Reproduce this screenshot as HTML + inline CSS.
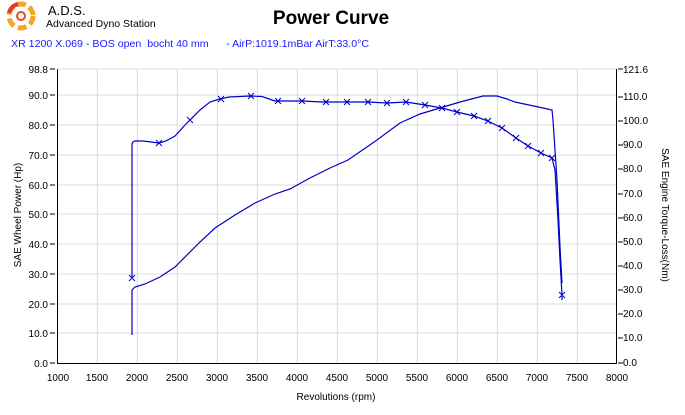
<!DOCTYPE html>
<html><head><meta charset="utf-8"><style>
body{margin:0;background:#fff;width:685px;height:410px;overflow:hidden;font-family:"Liberation Sans",sans-serif}
</style></head><body>
<svg width="685" height="410" xmlns="http://www.w3.org/2000/svg" font-family="Liberation Sans, sans-serif">
<rect width="685" height="410" fill="#fff"/>
<g transform="translate(21,16)">
<circle r="12" fill="none" stroke="#f5a623" stroke-width="5" stroke-dasharray="9 4"/>
<circle r="4" fill="none" stroke="#e0501a" stroke-width="2"/>
<path d="M-12,-3 A12,12 0 0 1 -3,-12" stroke="#e33" stroke-width="4" fill="none"/>
</g>
<text x="48" y="15" font-size="13" fill="#000">A.D.S.</text>
<text x="46" y="27" font-size="10.5" fill="#000">Advanced Dyno Station</text>
<text x="331" y="24" font-size="19" font-weight="bold" text-anchor="middle" fill="#000">Power Curve</text>
<text x="11" y="47" font-size="10.5" fill="#1a1aff" style="white-space:pre" xml:space="preserve" textLength="358" lengthAdjust="spacingAndGlyphs">XR 1200 X.069 - BOS open  bocht 40 mm      - AirP:1019.1mBar AirT:33.0°C</text>
<g stroke="#dcdcdc" stroke-width="1">
<line x1="97.3" y1="69" x2="97.3" y2="363"/><line x1="137.3" y1="69" x2="137.3" y2="363"/><line x1="177.3" y1="69" x2="177.3" y2="363"/><line x1="217.3" y1="69" x2="217.3" y2="363"/><line x1="257.3" y1="69" x2="257.3" y2="363"/><line x1="297.3" y1="69" x2="297.3" y2="363"/><line x1="337.3" y1="69" x2="337.3" y2="363"/><line x1="377.3" y1="69" x2="377.3" y2="363"/><line x1="417.3" y1="69" x2="417.3" y2="363"/><line x1="457.3" y1="69" x2="457.3" y2="363"/><line x1="497.3" y1="69" x2="497.3" y2="363"/><line x1="537.3" y1="69" x2="537.3" y2="363"/><line x1="577.3" y1="69" x2="577.3" y2="363"/>
<line x1="58" y1="69" x2="616" y2="69"/><line x1="58" y1="95" x2="616" y2="95"/><line x1="58" y1="125" x2="616" y2="125"/><line x1="58" y1="155" x2="616" y2="155"/><line x1="58" y1="185" x2="616" y2="185"/><line x1="58" y1="214" x2="616" y2="214"/><line x1="58" y1="244" x2="616" y2="244"/><line x1="58" y1="274" x2="616" y2="274"/><line x1="58" y1="304" x2="616" y2="304"/><line x1="58" y1="333" x2="616" y2="333"/>
</g>
<g stroke="#000" stroke-width="1">
<line x1="57.5" y1="69" x2="57.5" y2="363"/><line x1="616.5" y1="69" x2="616.5" y2="363"/><line x1="57" y1="363.5" x2="617" y2="363.5"/>
</g>
<g font-size="10" text-anchor="end" fill="#000">
<text x="48" y="73">98.8</text><text x="48" y="99">90.0</text><text x="48" y="129">80.0</text><text x="48" y="159">70.0</text><text x="48" y="189">60.0</text><text x="48" y="218">50.0</text><text x="48" y="248">40.0</text><text x="48" y="278">30.0</text><text x="48" y="308">20.0</text><text x="48" y="337">10.0</text><text x="48" y="367">0.0</text>
</g>
<g stroke="#000"><path d="M50,69h5M50,95h5M50,125h5M50,155h5M50,185h5M50,214h5M50,244h5M50,274h5M50,304h5M50,333h5M50,363h5"/>
<path d="M618,69h5M618,97h5M618,121h5M618,145h5M618,169h5M618,194h5M618,218h5M618,242h5M618,266h5M618,290h5M618,314h5M618,338h5M618,363h5"/></g>
<g font-size="10" fill="#000">
<text x="623" y="73">121.6</text><text x="623" y="100">110.0</text><text x="623" y="124">100.0</text><text x="623" y="148">90.0</text><text x="623" y="172">80.0</text><text x="623" y="197">70.0</text><text x="623" y="221">60.0</text><text x="623" y="245">50.0</text><text x="623" y="269">40.0</text><text x="623" y="293">30.0</text><text x="623" y="317">20.0</text><text x="623" y="341">10.0</text><text x="623" y="366">0.0</text>
</g>
<g font-size="10" text-anchor="middle" fill="#000">
<text x="58" y="381">1000</text><text x="97" y="381">1500</text><text x="137" y="381">2000</text><text x="177" y="381">2500</text><text x="217" y="381">3000</text><text x="257" y="381">3500</text><text x="297" y="381">4000</text><text x="337" y="381">4500</text><text x="377" y="381">5000</text><text x="417" y="381">5500</text><text x="457" y="381">6000</text><text x="497" y="381">6500</text><text x="537" y="381">7000</text><text x="577" y="381">7500</text><text x="617" y="381">8000</text>
<text x="336" y="400">Revolutions (rpm)</text>
</g>
<text transform="translate(21,215) rotate(-90)" font-size="10" text-anchor="middle">SAE Wheel Power (Hp)</text>
<text transform="translate(662,215) rotate(90)" font-size="10" text-anchor="middle">SAE Engine Torque-Loss(Nm)</text>
<g fill="none" stroke="#0000cc" stroke-width="1.2">
<path d="M132,278 L132,144 Q133,141 135,141 L143,141 L159,143 L166,141 L175,136 L185,125 L200,110 L210,102 L218,99.5 L229,97 L250,96 L262,96.5 L275,101 L302,101 L322,102 L347,102 L368,102 L387,103 L406,102 L425,105 L442,108 L457,112 L474,116 L488,121 L502,128 L516,138 L528,146 L541,153 L552,158 L555,170 L558,220 L560,260 L562,295 L562,300"/>
<path d="M132,335 L132,290 L135,287 L145,284 L160,277 L175,267 L200,242 L215,228 L235,215 L255,203 L275,194 L290,189 L310,178 L330,168 L348,160 L377,140 L400,123 L420,114 L440,108 L460,102 L483,96 L497,96 L507,99 L515,102 L543,108 L552,110 L553,120 L557,180 L560,247 L562,283"/>
</g>
<g stroke="#0000cc" stroke-width="1">
<path d="M129,275l6,6M135,275l-6,6 M156,140l6,6M162,140l-6,6 M187,117l6,6M193,117l-6,6 M218,96l6,6M224,96l-6,6 M248,93l6,6M254,93l-6,6 M275,98l6,6M281,98l-6,6 M299,98l6,6M305,98l-6,6 M323,99l6,6M329,99l-6,6 M344,99l6,6M350,99l-6,6 M365,99l6,6M371,99l-6,6 M384,100l6,6M390,100l-6,6 M403,99l6,6M409,99l-6,6 M422,102l6,6M428,102l-6,6 M439,105l6,6M445,105l-6,6 M454,109l6,6M460,109l-6,6 M471,113l6,6M477,113l-6,6 M485,118l6,6M491,118l-6,6 M499,125l6,6M505,125l-6,6 M513,135l6,6M519,135l-6,6 M525,143l6,6M531,143l-6,6 M538,150l6,6M544,150l-6,6 M549,155l6,6M555,155l-6,6 M559,292l6,6M565,292l-6,6"/>
</g>
</svg>
</body></html>
